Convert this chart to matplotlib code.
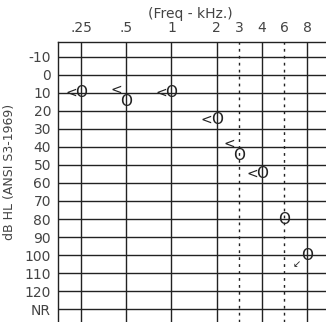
import matplotlib
matplotlib.use("Agg")
import matplotlib.pyplot as plt

# audiogram data
freq_labels = ['.25', '.5', '1', '2', '3', '4', '6', '8']
freq_pos = [0, 1, 2, 3, 3.5, 4, 4.5, 5]
freq_dotted = [False, False, False, False, True, False, True, False]

db_levels = [-10, 0, 10, 20, 30, 40, 50, 60, 70, 80, 90, 100, 110, 120, 130]
db_labels = ['-10', '0', '10', '20', '30', '40', '50', '60', '70', '80',
             '90', '100', '110', '120', 'NR']

# right ear, air conduction (O)
air_db = [10, 15, 10, 25, 45, 55, 80, 100]
# right ear, bone conduction (<)
bone_freq = ['.25', '.5', '1', '2', '3', '4']
bone_db = [10, 8, 10, 25, 38, 55]
# bone, no response
bone_nr_freq = ['8']
bone_nr_db = [105]

INK = '#222222'
TXT = '#444444'

fig = plt.figure(figsize=(3.26, 3.22), dpi=100)
ax = fig.add_axes([58/326, 0, 268/326, 280/322])

ax.set_xlim(-0.51, 5.42)
ax.set_ylim(137.2, -18.3)

for y in db_levels:
	ax.axhline(y, color=INK, lw=1.0, zorder=1)
for x, d in zip(freq_pos, freq_dotted):
	if d:
		ax.axvline(x, color=INK, lw=1.0, linestyle=(0, (2, 3)), zorder=1)
	else:
		ax.axvline(x, color=INK, lw=1.0, zorder=1)

pos = dict(zip(freq_labels, freq_pos))

for x, y in zip(freq_pos, air_db):
	ax.text(x, y, 'O', ha='center', va='center', fontsize=11,
			color=INK, zorder=3)
for f, y in zip(bone_freq, bone_db):
	ax.text(pos[f] - 0.09, y, '<', ha='right', va='center', fontsize=10,
			color=INK, zorder=3)
for f, y in zip(bone_nr_freq, bone_nr_db):
	ax.text(pos[f] - 0.13, y, '\u2199', ha='right', va='center', fontsize=7,
			color=INK, zorder=3)

ax.set_xticks(freq_pos)
ax.set_xticklabels(freq_labels)
ax.set_yticks(db_levels)
ax.set_yticklabels(db_labels)
ax.xaxis.tick_top()
ax.tick_params(length=0, labelsize=10, labelcolor=TXT)
ax.tick_params(axis='x', pad=5)
ax.tick_params(axis='y', pad=5)

for s in ['right', 'bottom']:
	ax.spines[s].set_visible(False)
for s in ['left', 'top']:
	ax.spines[s].set_color(INK)
	ax.spines[s].set_linewidth(1.0)

fig.text(190/326, 1 - 14/322, '(Freq - kHz.)', ha='center', va='center',
		 fontsize=10, color=TXT)
fig.text(10/326, 1 - 172/322, 'dB HL (ANSI S3-1969)', ha='center',
		 va='center', rotation=90, fontsize=9, color=TXT)

fig.savefig('out.png', dpi=100)
